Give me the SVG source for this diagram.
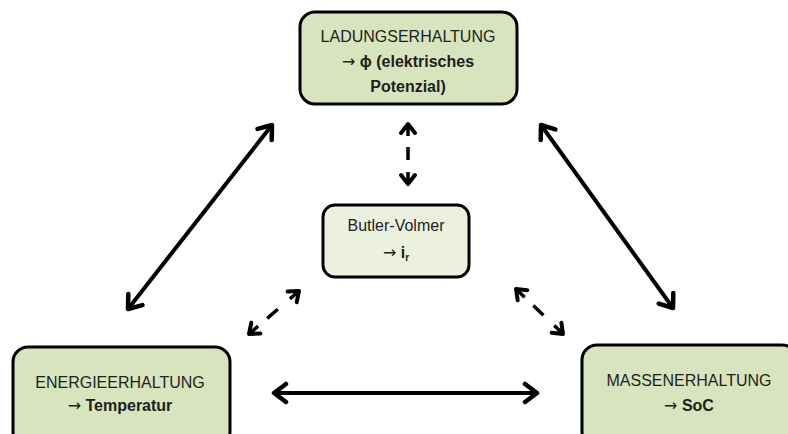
<svg xmlns="http://www.w3.org/2000/svg" width="788" height="434" viewBox="0 0 788 434">
  <style>
    .box { fill: #d7e4bd; stroke: #000; stroke-width: 3; }
    .inner { fill: #ebf1de; stroke: #000; stroke-width: 3; }
    text { font-family: "Liberation Sans", Arial, sans-serif; font-size: 16px; fill: #1e1e1e; text-anchor: middle; }
    .b { font-weight: bold; }
    .arr { font-family: "DejaVu Sans", sans-serif; font-weight: normal; }
    .solid { stroke: #000; stroke-width: 4; fill: none; marker-start: url(#headL); marker-end: url(#headL); }
    .dash { stroke: #000; stroke-width: 3.5; fill: none; marker-start: url(#headS); marker-end: url(#headS); }
  </style>
  <defs>
    <marker id="headL" viewBox="-16 -12 20 24" refX="0" refY="0" markerWidth="20" markerHeight="24" markerUnits="userSpaceOnUse" orient="auto-start-reverse">
      <path d="M-12,-9 L0,0 L-12,9" fill="none" stroke="#000" stroke-width="4.5" stroke-linecap="round" stroke-linejoin="round"/>
    </marker>
    <marker id="headS" viewBox="-14 -10 18 20" refX="0" refY="0" markerWidth="18" markerHeight="20" markerUnits="userSpaceOnUse" orient="auto-start-reverse">
      <path d="M-9,-7 L0,0 L-9,7" fill="none" stroke="#000" stroke-width="4" stroke-linecap="round" stroke-linejoin="round"/>
    </marker>
  </defs>

  <g id="connectors">
    <line class="solid" x1="128" y1="309" x2="272" y2="125"/>
    <line class="solid" x1="541" y1="125" x2="673" y2="308"/>
    <line class="solid" x1="274" y1="393" x2="537" y2="393"/>
    <!-- dashed links: head stub, one middle dash, head stub -->
    <path class="dash" d="M408,124 L408,136 M408,147 L408,160 M408,172 L408,184"/>
    <path class="dash" d="M249,334 L258.1,326.2 M267.2,318.4 L277.8,309.2 M289.9,298.8 L299,291"/>
    <path class="dash" d="M516,289 L524.7,297.3 M533.3,305.6 L543.4,315.3 M554.3,325.6 L563,334"/>
  </g>

  <g id="ladung">
    <rect class="box" x="300" y="12" width="217" height="92" rx="15"/>
    <text x="408" y="42">LADUNGSERHALTUNG</text>
    <text class="b" x="408" y="67"><tspan class="arr">→</tspan> ϕ (elektrisches</text>
    <text class="b" x="408" y="92">Potenzial)</text>
  </g>

  <g id="butler-volmer">
    <rect class="inner" x="323" y="205" width="146" height="72" rx="12"/>
    <text x="396" y="231">Butler-Volmer</text>
    <text class="b" x="396" y="258"><tspan class="arr">→</tspan> i<tspan font-size="10" dy="3">r</tspan></text>
  </g>

  <g id="energie">
    <rect class="box" x="13" y="347" width="217" height="100" rx="15"/>
    <text x="120" y="388">ENERGIEERHALTUNG</text>
    <text class="b" x="120" y="411"><tspan class="arr">→</tspan> Temperatur</text>
  </g>

  <g id="masse">
    <rect class="box" x="582" y="345" width="215" height="102" rx="15"/>
    <text x="689" y="386">MASSENERHALTUNG</text>
    <text class="b" x="689" y="411"><tspan class="arr">→</tspan> SoC</text>
  </g>
</svg>
